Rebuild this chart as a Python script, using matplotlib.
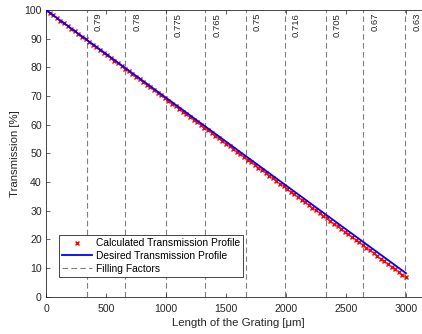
import numpy as np
import matplotlib
matplotlib.use("Agg")
import matplotlib.pyplot as plt

plt.rcParams["font.family"] = ["Liberation Sans", "DejaVu Sans"]

# grating sample positions (um) and calculated transmission (%)
calc_x = np.arange(0, 3001, 30)
calc_t = [
    100.0, 99.07, 98.14, 97.20, 96.27, 95.34, 94.41, 93.48, 92.54, 91.61,
    90.68, 89.75, 88.82, 87.88, 86.95, 86.02, 85.09, 84.16, 83.22, 82.29,
    81.36, 80.43, 79.50, 78.56, 77.63, 76.70, 75.77, 74.84, 73.90, 72.97,
    72.04, 71.11, 70.18, 69.24, 68.31, 67.38, 66.45, 65.52, 64.58, 63.65,
    62.72, 61.79, 60.86, 59.92, 58.99, 58.06, 57.13, 56.20, 55.26, 54.33,
    53.40, 52.47, 51.54, 50.60, 49.67, 48.74, 47.81, 46.88, 45.94, 45.01,
    44.08, 43.15, 42.22, 41.28, 40.35, 39.42, 38.49, 37.56, 36.62, 35.69,
    34.76, 33.83, 32.90, 31.96, 31.03, 30.10, 29.17, 28.24, 27.30, 26.37,
    25.44, 24.51, 23.58, 22.64, 21.71, 20.78, 19.85, 18.92, 17.98, 17.05,
    16.12, 15.19, 14.26, 13.32, 12.39, 11.46, 10.53, 9.60, 8.66, 7.73,
    6.80,
]

# desired (linear) transmission profile
desired_x = [0, 3000]
desired_t = [100, 8.2]

# section boundaries and their filling factors
ff_pos = [340, 660, 1000, 1325, 1665, 1990, 2330, 2645, 2995]
ff_labels = ["0.79", "0.78", "0.775", "0.765", "0.75", "0.716", "0.705", "0.67", "0.63"]

fig = plt.figure(figsize=(4.22, 3.34), dpi=100)
ax = fig.add_axes([46 / 422, 37.3 / 334, 384 / 422, 286.7 / 334])

dark = "#262626"
for i, (p, lab) in enumerate(zip(ff_pos, ff_labels)):
    ax.axvline(p, color="#7f7f7f", linestyle=(0, (5, 3)), linewidth=0.8,
               label="Filling Factors" if i == 0 else None, zorder=1)
    ax.text(p + 60, 99, lab, rotation=90, ha="left", va="top",
            fontsize=6.8, color=dark)

ax.plot(calc_x, calc_t, linestyle="none", marker="x", color="red",
        markersize=3.5, markeredgewidth=1.0,
        label="Calculated Transmission Profile", zorder=2)
ax.plot(desired_x, desired_t, color="#0000ff", linewidth=1.3,
        label="Desired Transmission Profile", zorder=3)

ax.set_xlim(0, 3200)
ax.set_ylim(0, 100)
ax.set_xticks([0, 500, 1000, 1500, 2000, 2500, 3000])
ax.set_yticks(range(0, 101, 10))
ax.tick_params(direction="in", length=3, width=0.5, labelsize=7.6,
               colors=dark, top=True, right=True)
ax.tick_params(axis="x", pad=5)
ax.tick_params(axis="y", pad=3)
for s in ax.spines.values():
    s.set_color(dark)
    s.set_linewidth(0.6)

ax.set_xlabel("Length of the Grating [\u03bcm]", fontsize=8.2, color=dark, labelpad=3)
ax.set_ylabel("Transmission [%]", fontsize=8.2, color=dark, labelpad=3)

handles, labels = ax.get_legend_handles_labels()
order = [labels.index("Calculated Transmission Profile"),
         labels.index("Desired Transmission Profile"),
         labels.index("Filling Factors")]
leg = ax.legend([handles[k] for k in order], [labels[k] for k in order],
                loc="lower left", bbox_to_anchor=(13 / 384, 0.07),
                fontsize=7.4, fancybox=False, framealpha=1, edgecolor=dark,
                handlelength=2.9, borderpad=0.3, labelspacing=0.25,
                handletextpad=0.4, borderaxespad=0)
leg.get_frame().set_linewidth(0.6)

fig.savefig("out.png", dpi=100)
